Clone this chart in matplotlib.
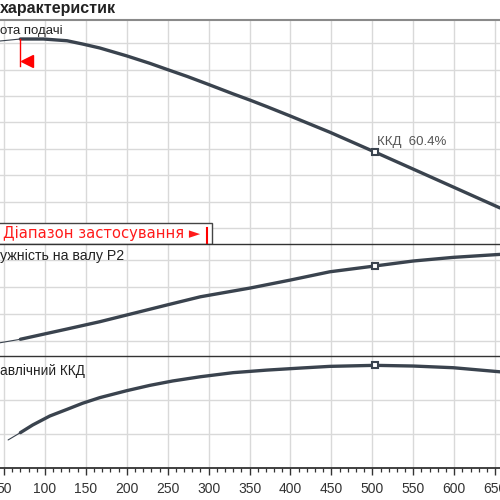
import numpy as np
import matplotlib
matplotlib.use('Agg')
import matplotlib.pyplot as plt
from matplotlib.patches import Rectangle
import matplotlib.transforms as mtransforms

plt.rcParams['font.family'] = ['Liberation Sans', 'DejaVu Sans']

# --- data ---
# head curve (top panel)
q_head = [45, 70, 98, 127, 146, 167, 200, 228, 249, 274, 298, 330, 351, 371, 400, 433, 448, 503, 558, 607, 656]
head = [45.42, 45.8, 45.8, 45.47, 44.85, 44.1, 42.6, 41.2, 40.05, 38.7, 37.3, 35.4, 34.2,
        33.0, 31.2, 29.1, 28.15, 24.4, 20.6, 17.2, 13.8]

# shaft power P2 (middle panel)
q_p2 = [45, 70, 127, 167, 208, 249, 290, 351, 400, 448, 503, 550, 599, 656]
p2 = [1.87, 2.13, 2.89, 3.43, 4.05, 4.67, 5.28, 5.93, 6.52, 7.13, 7.56, 7.93, 8.2, 8.42]

# hydraulic efficiency (bottom panel)
q_eff = [55, 70, 85, 106, 127, 146, 167, 200, 228, 256, 290, 330, 371, 412, 448, 503, 550, 599, 656]
eff = [16.5, 20.8, 25.3, 30.6, 34.5, 38.1, 41.4, 45.5, 48.6, 51.2, 53.7, 56.1, 57.6, 58.8, 59.8,
       60.4, 60.0, 59.0, 56.6]

q_min = 70        # start of operating range
q_max = 298       # end of operating range
q_bep = 503       # duty point
eff_bep = 60.4

xticks = list(range(50, 700, 50))
curve_col = '#3a434e'
grid_col = '#d9d9d9'


def split(q, v, qmin):
    q = np.array(q, float)
    v = np.array(v, float)
    return q[q <= qmin], v[q <= qmin], q[q >= qmin], v[q >= qmin]


def draw_curve(ax, q, v):
    ql, vl, qh, vh = split(q, v, q_min)
    ax.plot(ql, vl, color=curve_col, lw=0.8, solid_capstyle='round')
    ax.plot(qh, vh, color=curve_col, lw=2.4, solid_capstyle='round', solid_joinstyle='round')
    ax.plot([q_bep], [np.interp(q_bep, q, v)], marker='s', ms=5, mfc='white',
            mec=curve_col, mew=1.5, ls='none', zorder=5)


def setup(ax, yticks, ylim):
    ax.set_xlim(45.1, 656)
    ax.set_ylim(*ylim)
    ax.set_xticks(xticks)
    ax.set_yticks(yticks)
    ax.grid(True, color=grid_col, lw=1)
    ax.set_axisbelow(True)
    for s in ['left', 'right', 'bottom']:
        ax.spines[s].set_visible(False)
    ax.spines['top'].set_color('#333333')
    ax.spines['top'].set_linewidth(1.0)
    ax.tick_params(left=False, labelleft=False, bottom=False, labelbottom=False)


fig = plt.figure(figsize=(5, 5), dpi=100)
ax1 = fig.add_axes([0, 0.512, 1, 0.448])
ax2 = fig.add_axes([0, 0.288, 1, 0.224])
ax3 = fig.add_axes([0, 0.064, 1, 0.224])

setup(ax1, range(10, 50, 5), (6.97, 49.4))
setup(ax2, [2, 4, 6, 8], (0.89, 9.19))
setup(ax3, [20, 40], (0, 65.9))
ax1.spines['top'].set_color('#8a8a8a')
ax1.spines['top'].set_linewidth(1.5)

draw_curve(ax1, q_head, head)
draw_curve(ax2, q_p2, p2)
draw_curve(ax3, q_eff, eff)

# bottom x axis
ax3.spines['bottom'].set_visible(True)
ax3.spines['bottom'].set_color('#333333')
ax3.spines['bottom'].set_linewidth(1.3)
ax3.tick_params(bottom=True, labelbottom=True, direction='out', length=5, width=1,
                color='#333333', labelsize=10, labelcolor='#333333', pad=5)
ax3.set_xticks(range(50, 660, 10), minor=True)
ax3.tick_params(which='minor', bottom=True, direction='out', length=3, width=0.9, color='#333333')

# min flow marker (top panel)
h_min = np.interp(q_min, q_head, head)
ax1.plot([q_min, q_min], [h_min, 40.7], color='#ff0000', lw=1)
ax1.plot([q_min + 8.5], [41.6], marker='<', ms=8, color='#ff0000', ls='none')

# operating range box
trans = mtransforms.blended_transform_factory(ax1.transData, ax1.transAxes)
ax1.add_patch(Rectangle((40, 0), 304 - 40, 0.094, transform=trans, fc='white',
                        ec='#444444', lw=1, zorder=6, clip_on=False))
ax1.text(49, 0.045, 'Діапазон застосування ►', transform=trans, color='#ff1a1a',
         fontsize=10.6, family=['DejaVu Sans'], va='center', ha='left', zorder=7)
ax1.plot([q_max, q_max], [0, 0.072], transform=trans, color='#ff0000', lw=1.5, zorder=7)

# labels
ax1.text(0.0, 0.95, 'ота подачі', transform=ax1.transAxes, fontsize=9.5,
         color='#222222', va='center', ha='left')
ax2.text(0.0, 0.89, 'ужність на валу P2', transform=ax2.transAxes, fontsize=10.2,
         color='#222222', va='center', ha='left')
ax3.text(0.0, 0.87, 'авлічний ККД', transform=ax3.transAxes, fontsize=9.8,
         color='#222222', va='center', ha='left')
ax1.text(q_bep + 3, np.interp(q_bep, q_head, head) + 1.8, 'ККД  %.1f%%' % eff_bep,
         fontsize=9.5, color='#555555', va='center', ha='left')

fig.text(0.0, 1 - 9 / 500, 'характеристик', fontsize=11.5, fontweight='bold',
         color='#222222', va='center', ha='left')

fig.savefig('out.png', dpi=100)
